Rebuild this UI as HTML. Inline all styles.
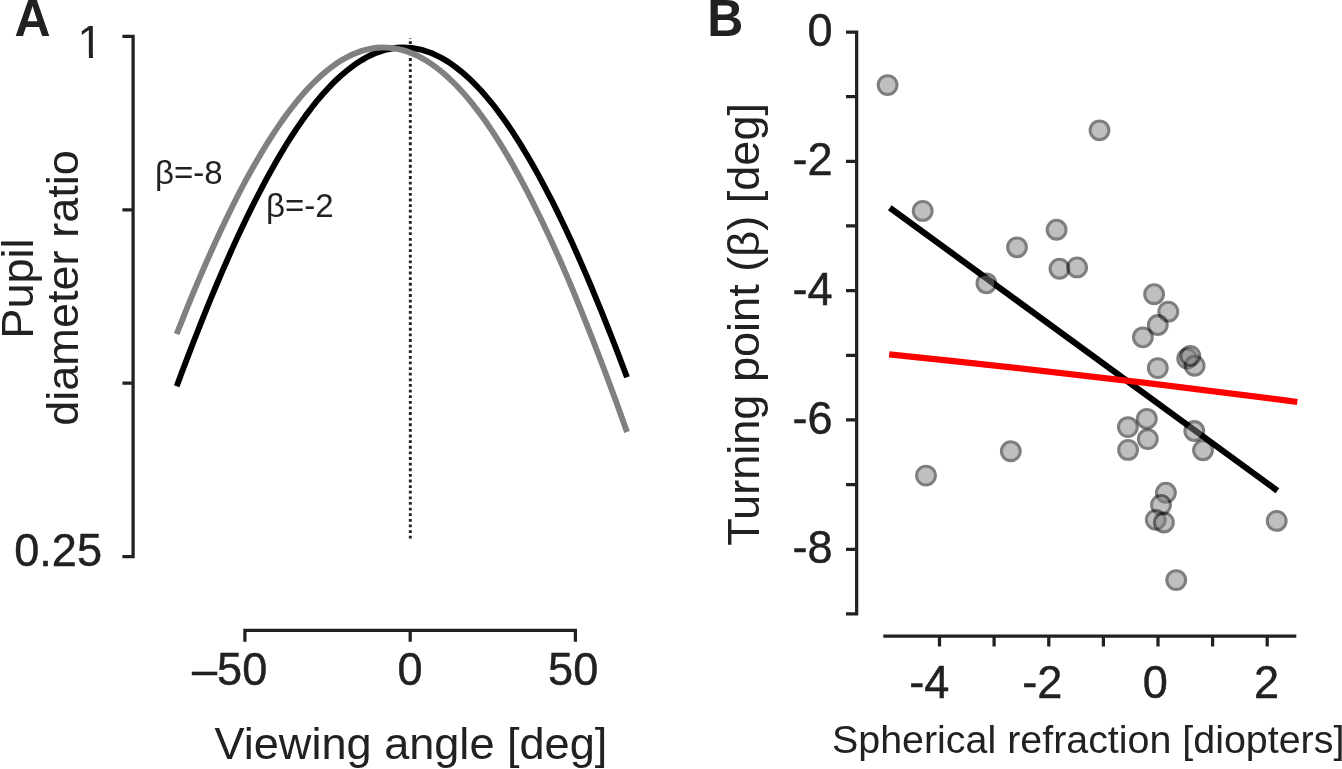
<!DOCTYPE html>
<html lang="en"><head><meta charset="utf-8"><title>Pupil diameter ratio and turning point</title>
<style>
html,body{margin:0;padding:0;background:#fff;}
body{width:1342px;height:769px;overflow:hidden;}
svg{display:block;will-change:transform;}
text{font-family:"Liberation Sans", sans-serif;fill:#212121;}
.n{stroke:#212121;stroke-width:0.45px;stroke-linejoin:round;}
.t{font-size:45.1px;}
.b{font-size:33px;}
.s{font-size:39.4px;}
.p{font-size:50px;font-weight:bold;}
.ax{stroke:#212121;stroke-width:3.25;fill:none;}
</style></head><body>
<svg width="1342" height="769" viewBox="0 0 1342 769">
<rect width="1342" height="769" fill="#fff"/>
<g id="panelA">
<text class="p" transform="translate(14.6,36.3) scale(1,1.035)">A</text>
<path class="ax" d="M122.4,36.3 H133.1 V556.7 H122.4 M122.4,209.8 H133.1 M122.4,383.2 H133.1"/>
<clipPath id="c1"><path d="M60,15 H112 V53.6 H93.0 V62 H88.9 V53.6 H60 Z"/></clipPath>
<g clip-path="url(#c1)"><text class="t" transform="translate(77.6,57.8) scale(1,1.01)" >1</text></g>
<text class="t n" transform="translate(102,565.8) scale(1,1.02)" text-anchor="end">0.25</text>
<path class="ax" d="M244.9,641.8 V630.4 H575.4 V641.8 M410.2,630.4 V641.8"/>
<text class="t n" transform="translate(192,685.4) scale(1,1.02)">–50</text>
<text class="t n" transform="translate(410,685.4) scale(1,1.02)" text-anchor="middle">0</text>
<text class="t n" transform="translate(573.2,685.4) scale(1,1.02)" text-anchor="middle">50</text>
<text class="t" transform="translate(214.5,758.6)">Viewing angle [deg]</text>
<text class="t" transform="translate(32.5,288.5) rotate(-90)" text-anchor="middle">Pupil</text>
<text class="t" transform="translate(77.7,288) rotate(-90)" text-anchor="middle">diameter ratio</text>
<line x1="410.3" y1="38" x2="410.3" y2="538.8" stroke="#212121" stroke-width="2.9" stroke-dasharray="2.82 2.8" stroke-dashoffset="2.42"/>
<polyline points="176.7,386.2 181.7,372.8 186.7,359.6 191.7,346.5 196.7,333.7 201.7,321.1 206.7,308.6 211.7,296.4 216.7,284.5 221.7,272.7 226.7,261.2 231.7,249.9 236.7,238.9 241.7,228.2 246.7,217.7 251.8,207.4 256.8,197.5 261.8,187.8 266.8,178.4 271.8,169.3 276.8,160.5 281.8,152.0 286.8,143.8 291.8,135.9 296.8,128.3 301.8,121.1 306.8,114.1 311.8,107.5 316.8,101.2 321.8,95.3 326.8,89.7 331.8,84.4 336.8,79.5 341.8,74.9 346.8,70.7 351.8,66.8 356.8,63.2 361.8,60.1 366.8,57.2 371.8,54.8 376.8,52.6 381.8,50.9 386.8,49.5 391.8,48.5 396.8,47.8 401.9,47.5 406.9,47.6 411.9,48.0 416.9,48.8 421.9,49.9 426.9,51.5 431.9,53.3 436.9,55.6 441.9,58.1 446.9,61.1 451.9,64.4 456.9,68.1 461.9,72.1 466.9,76.4 471.9,81.1 476.9,86.2 481.9,91.6 486.9,97.3 491.9,103.3 496.9,109.7 501.9,116.5 506.9,123.5 511.9,130.9 516.9,138.6 521.9,146.6 526.9,154.9 531.9,163.5 536.9,172.4 541.9,181.6 546.9,191.1 552.0,200.8 557.0,210.9 562.0,221.2 567.0,231.8 572.0,242.6 577.0,253.7 582.0,265.1 587.0,276.7 592.0,288.5 597.0,300.6 602.0,312.8 607.0,325.3 612.0,338.0 617.0,350.9 622.0,364.0 627.0,377.3" fill="none" stroke="#000" stroke-width="5.9"/>
<polyline points="176.7,334.0 181.7,321.3 186.7,308.9 191.7,296.7 196.7,284.7 201.7,273.0 206.7,261.5 211.7,250.2 216.7,239.2 221.7,228.4 226.7,217.9 231.7,207.7 236.7,197.7 241.7,188.0 246.7,178.6 251.8,169.5 256.8,160.7 261.8,152.2 266.8,144.0 271.8,136.1 276.8,128.5 281.8,121.2 286.8,114.3 291.8,107.7 296.8,101.4 301.8,95.4 306.8,89.8 311.8,84.5 316.8,79.6 321.8,75.0 326.8,70.7 331.8,66.9 336.8,63.3 341.8,60.1 346.8,57.3 351.8,54.8 356.8,52.7 361.8,50.9 366.8,49.5 371.8,48.5 376.8,47.8 381.8,47.5 386.8,47.6 391.8,48.0 396.8,48.8 401.9,49.9 406.9,51.4 411.9,53.3 416.9,55.5 421.9,58.1 426.9,61.0 431.9,64.3 436.9,68.0 441.9,72.0 446.9,76.3 451.9,81.0 456.9,86.0 461.9,91.4 466.9,97.1 471.9,103.2 476.9,109.6 481.9,116.3 486.9,123.3 491.9,130.7 496.9,138.4 501.9,146.4 506.9,154.7 511.9,163.3 516.9,172.2 521.9,181.4 526.9,190.8 531.9,200.6 536.9,210.7 541.9,221.0 546.9,231.5 552.0,242.4 557.0,253.5 562.0,264.8 567.0,276.4 572.0,288.2 577.0,300.3 582.0,312.6 587.0,325.1 592.0,337.8 597.0,350.7 602.0,363.7 607.0,377.0 612.0,390.5 617.0,404.1 622.0,417.9 627.0,431.9" fill="none" stroke="#808080" stroke-width="5.9"/>
<text class="b" transform="translate(155,183.6)">β=-8</text>
<text class="b" transform="translate(266,217.1)">β=-2</text>
</g>
<g id="panelB">
<text class="p" transform="translate(707.2,36.3) scale(1,1.035)">B</text>
<path class="ax" d="M846,32.00 H856.65 V613.94 H846 M846,96.66 H856.65 M846,161.32 H856.65 M846,225.98 H856.65 M846,290.64 H856.65 M846,355.30 H856.65 M846,419.96 H856.65 M846,484.62 H856.65 M846,549.28 H856.65"/>
<text class="t n" transform="translate(832.5,45.9) scale(1,1.02)" text-anchor="end">0</text>
<text class="t n" transform="translate(832.5,175.2) scale(1,1.02)" text-anchor="end">-2</text>
<text class="t n" transform="translate(832.5,304.5) scale(1,1.02)" text-anchor="end">-4</text>
<text class="t n" transform="translate(832.5,433.9) scale(1,1.02)" text-anchor="end">-6</text>
<text class="t n" transform="translate(832.5,563.2) scale(1,1.02)" text-anchor="end">-8</text>
<path class="ax" d="M883.3,636.2 H1296.3 M939.5,636.2 V646.4 M994.1,636.2 V646.4 M1048.8,636.2 V646.4 M1103.4,636.2 V646.4 M1158.0,636.2 V646.4 M1212.6,636.2 V646.4 M1267.2,636.2 V646.4"/>
<text class="t n" transform="translate(929.4,698.4) scale(1,1.02)" text-anchor="middle">-4</text>
<text class="t n" transform="translate(1042.3,698.4) scale(1,1.02)" text-anchor="middle">-2</text>
<text class="t n" transform="translate(1155.2,698.4) scale(1,1.02)" text-anchor="middle">0</text>
<text class="t n" transform="translate(1266.6,698.4) scale(1,1.02)" text-anchor="middle">2</text>
<text class="s" transform="translate(832,753.4)">Spherical refraction [diopters]</text>
<text class="t" transform="translate(758.9,324.4) rotate(-90)" text-anchor="middle">Turning point (β) [deg]</text>
<line x1="889.8" y1="207.7" x2="1277.4" y2="490.7" stroke="#000" stroke-width="6.2"/>
<path d="M889.2,354.4 Q1093.25,375.34 1297.3,401.95" fill="none" stroke="#f00" stroke-width="6.2"/>
<g opacity="0.5"><circle cx="887.6" cy="85.1" r="9.4" fill="#808080" stroke="#000" stroke-width="3.05"/></g>
<g opacity="0.5"><circle cx="1099.5" cy="130.3" r="9.4" fill="#808080" stroke="#000" stroke-width="3.05"/></g>
<g opacity="0.5"><circle cx="922.7" cy="210.9" r="9.4" fill="#808080" stroke="#000" stroke-width="3.05"/></g>
<g opacity="0.5"><circle cx="1056.6" cy="229.7" r="9.4" fill="#808080" stroke="#000" stroke-width="3.05"/></g>
<g opacity="0.5"><circle cx="1017.0" cy="247.3" r="9.4" fill="#808080" stroke="#000" stroke-width="3.05"/></g>
<g opacity="0.5"><circle cx="1059.5" cy="268.7" r="9.4" fill="#808080" stroke="#000" stroke-width="3.05"/></g>
<g opacity="0.5"><circle cx="1077.1" cy="267.4" r="9.4" fill="#808080" stroke="#000" stroke-width="3.05"/></g>
<g opacity="0.5"><circle cx="986.4" cy="283.3" r="9.4" fill="#808080" stroke="#000" stroke-width="3.05"/></g>
<g opacity="0.5"><circle cx="1154.1" cy="294.2" r="9.4" fill="#808080" stroke="#000" stroke-width="3.05"/></g>
<g opacity="0.5"><circle cx="1168.3" cy="311.65" r="9.4" fill="#808080" stroke="#000" stroke-width="3.05"/></g>
<g opacity="0.5"><circle cx="1157.8" cy="325.0" r="9.4" fill="#808080" stroke="#000" stroke-width="3.05"/></g>
<g opacity="0.5"><circle cx="1142.9" cy="337.3" r="9.4" fill="#808080" stroke="#000" stroke-width="3.05"/></g>
<g opacity="0.5"><circle cx="1187.2" cy="358.5" r="9.4" fill="#808080" stroke="#000" stroke-width="3.05"/></g>
<g opacity="0.5"><circle cx="1194.6" cy="365.7" r="9.4" fill="#808080" stroke="#000" stroke-width="3.05"/></g>
<g opacity="0.5"><circle cx="1190.3" cy="356.0" r="9.4" fill="#808080" stroke="#000" stroke-width="3.05"/></g>
<g opacity="0.5"><circle cx="1157.8" cy="368.1" r="9.4" fill="#808080" stroke="#000" stroke-width="3.05"/></g>
<g opacity="0.5"><circle cx="1146.8" cy="418.8" r="9.4" fill="#808080" stroke="#000" stroke-width="3.05"/></g>
<g opacity="0.5"><circle cx="1127.9" cy="427.1" r="9.4" fill="#808080" stroke="#000" stroke-width="3.05"/></g>
<g opacity="0.5"><circle cx="1147.8" cy="439.1" r="9.4" fill="#808080" stroke="#000" stroke-width="3.05"/></g>
<g opacity="0.5"><circle cx="1128.1" cy="449.9" r="9.4" fill="#808080" stroke="#000" stroke-width="3.05"/></g>
<g opacity="0.5"><circle cx="1194.3" cy="431.0" r="9.4" fill="#808080" stroke="#000" stroke-width="3.05"/></g>
<g opacity="0.5"><circle cx="1203.0" cy="450.2" r="9.4" fill="#808080" stroke="#000" stroke-width="3.05"/></g>
<g opacity="0.5"><circle cx="1010.8" cy="451.2" r="9.4" fill="#808080" stroke="#000" stroke-width="3.05"/></g>
<g opacity="0.5"><circle cx="926.0" cy="475.6" r="9.4" fill="#808080" stroke="#000" stroke-width="3.05"/></g>
<g opacity="0.5"><circle cx="1165.9" cy="492.7" r="9.4" fill="#808080" stroke="#000" stroke-width="3.05"/></g>
<g opacity="0.5"><circle cx="1161.0" cy="504.9" r="9.4" fill="#808080" stroke="#000" stroke-width="3.05"/></g>
<g opacity="0.5"><circle cx="1155.8" cy="519.8" r="9.4" fill="#808080" stroke="#000" stroke-width="3.05"/></g>
<g opacity="0.5"><circle cx="1163.9" cy="522.5" r="9.4" fill="#808080" stroke="#000" stroke-width="3.05"/></g>
<g opacity="0.5"><circle cx="1276.7" cy="520.9" r="9.4" fill="#808080" stroke="#000" stroke-width="3.05"/></g>
<g opacity="0.5"><circle cx="1176.2" cy="580.1" r="9.4" fill="#808080" stroke="#000" stroke-width="3.05"/></g>
</g>
</svg></body></html>
